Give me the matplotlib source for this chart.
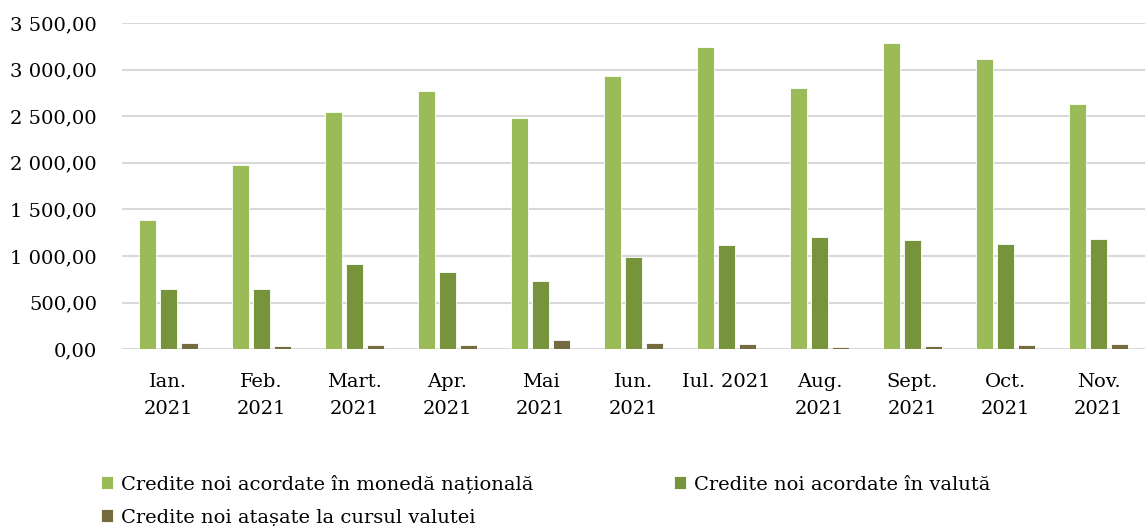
import numpy as np
import matplotlib
matplotlib.use("Agg")
import matplotlib.pyplot as plt
from matplotlib.ticker import FuncFormatter

months = ["Ian.\n2021", "Feb.\n2021", "Mart.\n2021", "Apr.\n2021", "Mai\n2021", "Iun.\n2021",
          "Iul. 2021", "Aug.\n2021", "Sept.\n2021", "Oct.\n2021", "Nov.\n2021"]
national = [1390, 1981, 2540, 2773, 2483, 2935, 3242, 2802, 3282, 3110, 2630]
valuta = [648, 648, 917, 828, 731, 989, 1121, 1200, 1175, 1132, 1178]
atasate = [71, 39, 46, 46, 100, 71, 60, 25, 39, 43, 57]

labels = ["Credite noi acordate în monedă națională",
          "Credite noi acordate în valută",
          "Credite noi atașate la cursul valutei"]
colors = ["#9BBB59", "#77933C", "#746B3F"]

plt.rcParams['font.family'] = ['DejaVu Serif']

fig = plt.figure(figsize=(11.45, 5.26), dpi=100)
ax = fig.add_axes([122/1145, 1-349.3/526, 1-122/1145, (349.3-23)/526])

x = np.arange(len(months))
w = 0.18
step = 0.225
for i, (vals, c, lab) in enumerate(zip([national, valuta, atasate], colors, labels)):
    ax.bar(x + (i-1)*step, vals, width=w, color=c, edgecolor='white', linewidth=0.6,
           label=lab, zorder=3)

ax.set_xlim(-0.5, len(months)-0.5)
ax.set_ylim(0, 3500)
ax.set_yticks(np.arange(0, 3501, 500))

def fmt(v, pos):
    s = f"{v:,.2f}".replace(",", " ").replace(".", ",")
    return s
ax.yaxis.set_major_formatter(FuncFormatter(fmt))
ax.set_xticks(x)
ax.set_xticklabels(months, linespacing=1.65)

ax.grid(axis='y', color='#D9D9D9', linewidth=1.5, zorder=0)
for s in ax.spines.values():
    s.set_visible(False)
ax.tick_params(axis='both', length=0, labelsize=14, colors='#000000')
ax.tick_params(axis='y', pad=18)
ax.tick_params(axis='x', pad=17)

h, l = ax.get_legend_handles_labels()
order = [0, 2, 1]
fig.legend([h[i] for i in order], [l[i] for i in order], ncol=2,
           loc='upper left', bbox_to_anchor=(93/1145, 1-467/526),
           frameon=False, fontsize=14, handlelength=0.65, handleheight=0.65,
           handletextpad=0.4, columnspacing=7.2, labelspacing=0.75, borderaxespad=0)

fig.savefig("out.png", dpi=100)
